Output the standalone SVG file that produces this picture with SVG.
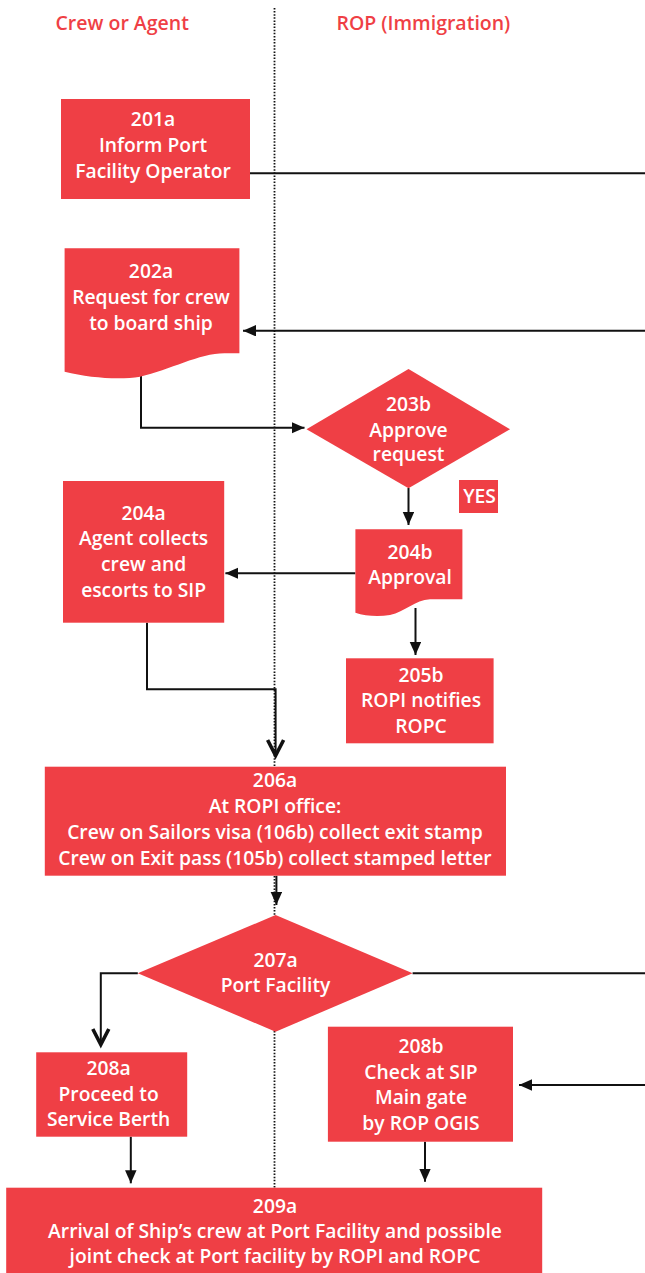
<svg xmlns="http://www.w3.org/2000/svg" width="645" height="1273" viewBox="0 0 645 1273">
  <style>
    .node { fill: #EF3F45; }
    .lbl { fill: #ffffff; font-family: "Open Sans", "Liberation Sans", sans-serif; font-weight: 600; font-size: 19.3px; text-anchor: middle; }
    .hdr { fill: #EF3F45; font-family: "Open Sans", "Liberation Sans", sans-serif; font-weight: 600; font-size: 19.5px; }
    .wire { fill: none; stroke: #111111; stroke-width: 2; }
    .lane { fill: none; stroke: #111111; stroke-width: 1.8; stroke-dasharray: 1.5 1.6; }
  </style>
  <defs>
    <marker id="tri" markerUnits="userSpaceOnUse" markerWidth="14" markerHeight="12" refX="13" refY="5.75" orient="auto">
      <path d="M0,0 L13,5.75 L0,11.5 z" fill="#111111"/>
    </marker>
    <marker id="vee" markerUnits="userSpaceOnUse" markerWidth="22" markerHeight="22" refX="18" refY="10" orient="auto">
      <path d="M2,2 L17.5,10 L2,18" fill="none" stroke="#111111" stroke-width="3.6" stroke-linejoin="miter"/>
    </marker>
  </defs>

  <!-- swimlane headers and divider -->
  <g id="lanes">
    <text class="hdr" x="55.5" y="29.5">Crew or Agent</text>
    <text class="hdr" x="336.5" y="29.5">ROP (Immigration)</text>
    <line class="lane" x1="274.5" y1="8" x2="274.5" y2="1188"/>
  </g>

  <!-- connectors -->
  <g id="connectors">
    <line class="wire" x1="250" y1="173.3" x2="645" y2="173.3"/>
    <line class="wire" x1="645" y1="330.7" x2="243" y2="330.7" marker-end="url(#tri)"/>
    <polyline class="wire" points="141,376 141,427.7 304.5,427.7" marker-end="url(#tri)"/>
    <line class="wire" x1="408.5" y1="488" x2="408.5" y2="525" marker-end="url(#tri)"/>
    <line class="wire" x1="355.4" y1="573.3" x2="225.4" y2="573.3" marker-end="url(#tri)"/>
    <line class="wire" x1="415.5" y1="608" x2="415.5" y2="655" marker-end="url(#tri)"/>
    <polyline class="wire" points="147,622.7 147,689.3 275.6,689.3 275.6,756" marker-end="url(#vee)"/>
    <line class="wire" x1="276.4" y1="875.7" x2="276.4" y2="905" marker-end="url(#tri)"/>
    <polyline class="wire" points="137.8,973.3 100.8,973.3 100.8,1045" marker-end="url(#vee)"/>
    <line class="wire" x1="412.6" y1="973.3" x2="645" y2="973.3"/>
    <line class="wire" x1="645" y1="1085" x2="519" y2="1085" marker-end="url(#tri)"/>
    <line class="wire" x1="130.8" y1="1136.7" x2="130.8" y2="1183.3" marker-end="url(#tri)"/>
    <line class="wire" x1="425" y1="1141.7" x2="425" y2="1181.7" marker-end="url(#tri)"/>
  </g>

  <g id="n201a">
    <rect class="node" x="61" y="99" width="189" height="100"/>
    <text class="lbl" x="153" y="125.5">201a</text>
    <text class="lbl" x="153" y="151.5">Inform Port</text>
    <text class="lbl" x="153" y="177.8">Facility Operator</text>
  </g>

  <g id="n202a">
    <path class="node" d="M64.6,248.3 H239.4 V353.3 H225 C200,353 170,370 140,376.7 C120,380 90,378 64.6,371.7 Z"/>
    <text class="lbl" x="151" y="278.3">202a</text>
    <text class="lbl" x="151" y="304">Request for crew</text>
    <text class="lbl" x="151" y="330">to board ship</text>
  </g>

  <g id="n203b">
    <polygon class="node" points="306.5,429.3 408.5,369 510,429.3 408.5,488.3"/>
    <text class="lbl" x="408.5" y="410.7">203b</text>
    <text class="lbl" x="408.5" y="436.7">Approve</text>
    <text class="lbl" x="408.5" y="461">request</text>
  </g>

  <g id="yes">
    <rect class="node" x="459" y="480" width="39" height="33"/>
    <text class="lbl" x="479.6" y="503.3">YES</text>
  </g>

  <g id="n204a">
    <rect class="node" x="63" y="481" width="161.2" height="141.7"/>
    <text class="lbl" x="143.6" y="520">204a</text>
    <text class="lbl" x="143.6" y="545">Agent collects</text>
    <text class="lbl" x="143.6" y="571">crew and</text>
    <text class="lbl" x="143.6" y="596.7">escorts to SIP</text>
  </g>

  <g id="n204b">
    <path class="node" d="M355.4,529.3 H462.4 V599.3 H430 C415,600 405,612 390,615 C378,617 365,616 355.4,612.7 Z"/>
    <text class="lbl" x="410" y="559.3">204b</text>
    <text class="lbl" x="410" y="584.3">Approval</text>
  </g>

  <g id="n205b">
    <rect class="node" x="346" y="658.3" width="147.6" height="85"/>
    <text class="lbl" x="421" y="681.7">205b</text>
    <text class="lbl" x="421" y="707.3">ROPI notifies</text>
    <text class="lbl" x="421" y="732.7">ROPC</text>
  </g>

  <g id="n206a">
    <rect class="node" x="44.8" y="766.7" width="461.2" height="109"/>
    <text class="lbl" x="275" y="787.3">206a</text>
    <text class="lbl" x="275" y="813.3">At ROPI office:</text>
    <text class="lbl" x="275" y="839">Crew on Sailors visa (106b) collect exit stamp</text>
    <text class="lbl" x="275" y="865">Crew on Exit pass (105b) collect stamped letter</text>
  </g>

  <g id="n207a">
    <polygon class="node" points="137.8,973.3 275.6,915 412.6,973.3 275.6,1031.7"/>
    <text class="lbl" x="275.6" y="966.7">207a</text>
    <text class="lbl" x="275.6" y="991.7">Port Facility</text>
  </g>

  <g id="n208a">
    <rect class="node" x="36.2" y="1052.3" width="151" height="84.4"/>
    <text class="lbl" x="108.6" y="1075">208a</text>
    <text class="lbl" x="108.6" y="1100.7">Proceed to</text>
    <text class="lbl" x="108.6" y="1126">Service Berth</text>
  </g>

  <g id="n208b">
    <rect class="node" x="327.9" y="1026.7" width="185.1" height="115"/>
    <text class="lbl" x="421" y="1053.3">208b</text>
    <text class="lbl" x="421" y="1079">Check at SIP</text>
    <text class="lbl" x="421" y="1104.3">Main gate</text>
    <text class="lbl" x="421" y="1130">by ROP OGIS</text>
  </g>

  <g id="n209a">
    <rect class="node" x="6.2" y="1187.7" width="536" height="85.3"/>
    <text class="lbl" x="275" y="1212.7">209a</text>
    <text class="lbl" x="275" y="1238.3">Arrival of Ship’s crew at Port Facility and possible</text>
    <text class="lbl" x="275" y="1263.3">joint check at Port facility by ROPI and ROPC</text>
  </g>
</svg>
